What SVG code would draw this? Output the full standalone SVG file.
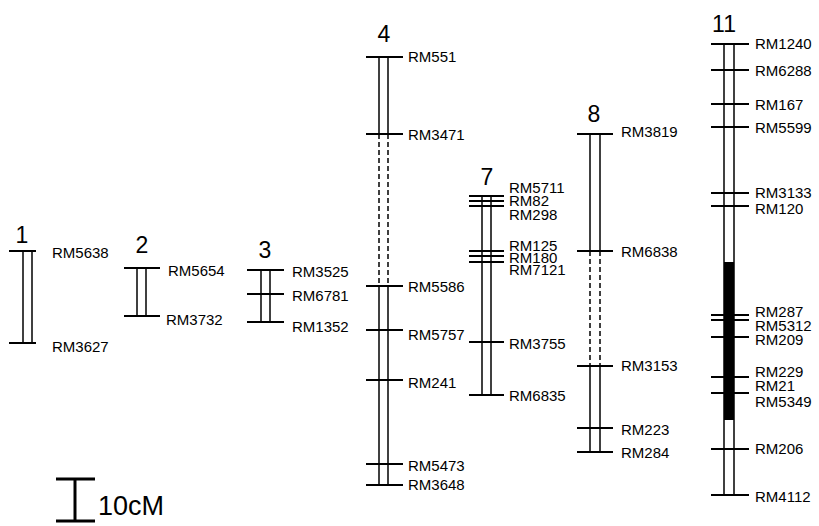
<svg xmlns="http://www.w3.org/2000/svg" width="819" height="526" viewBox="0 0 819 526">
<style>
.bg{fill:#fff}
.rail{stroke:#000;stroke-width:1.5;fill:none}
.dash{stroke:#000;stroke-width:1.5;fill:none;stroke-dasharray:5,3}
.tick{stroke:#000;stroke-width:2}
.lbl{font-family:"Liberation Sans",Arial,sans-serif;font-size:15px;fill:#000}
.num{font-family:"Liberation Sans",Arial,sans-serif;font-size:23px;fill:#000;text-anchor:middle}
</style>
<rect class="bg" x="0" y="0" width="819" height="526"/>
<g id="chr1">
<text class="num" x="22" y="243">1</text>
<line class="rail" x1="23" y1="251" x2="23" y2="343"/><line class="rail" x1="32" y1="251" x2="32" y2="343"/>
<line class="tick" x1="9" y1="251" x2="36" y2="251"/><line class="tick" x1="9" y1="343" x2="36" y2="343"/>
<text class="lbl" x="52" y="258">RM5638</text><text class="lbl" x="52" y="352">RM3627</text>
</g>
<g id="chr2">
<text class="num" x="142" y="253">2</text>
<line class="rail" x1="137" y1="268" x2="137" y2="316"/><line class="rail" x1="146" y1="268" x2="146" y2="316"/>
<line class="tick" x1="124" y1="268" x2="160" y2="268"/><line class="tick" x1="124" y1="316" x2="160" y2="316"/>
<text class="lbl" x="168" y="276">RM5654</text><text class="lbl" x="166" y="325">RM3732</text>
</g>
<g id="chr3">
<text class="num" x="265" y="258">3</text>
<line class="rail" x1="261" y1="270" x2="261" y2="322"/><line class="rail" x1="270" y1="270" x2="270" y2="322"/>
<line class="tick" x1="247" y1="270" x2="284" y2="270"/><line class="tick" x1="247" y1="294" x2="284" y2="294"/><line class="tick" x1="247" y1="322" x2="284" y2="322"/>
<text class="lbl" x="292" y="277">RM3525</text><text class="lbl" x="292" y="301">RM6781</text><text class="lbl" x="292" y="332">RM1352</text>
</g>
<g id="chr4">
<text class="num" x="384" y="42">4</text>
<line class="rail" x1="379" y1="57" x2="379" y2="134"/><line class="rail" x1="388" y1="57" x2="388" y2="134"/>
<line class="dash" x1="379" y1="134" x2="379" y2="286"/><line class="dash" x1="388" y1="134" x2="388" y2="286"/>
<line class="rail" x1="379" y1="286" x2="379" y2="485"/><line class="rail" x1="388" y1="286" x2="388" y2="485"/>
<line class="tick" x1="366" y1="57" x2="403" y2="57"/><line class="tick" x1="366" y1="134" x2="403" y2="134"/><line class="tick" x1="366" y1="286" x2="403" y2="286"/><line class="tick" x1="366" y1="330" x2="403" y2="330"/><line class="tick" x1="366" y1="380" x2="403" y2="380"/><line class="tick" x1="366" y1="464" x2="403" y2="464"/><line class="tick" x1="366" y1="485" x2="403" y2="485"/>
<text class="lbl" x="408" y="62">RM551</text><text class="lbl" x="408" y="140">RM3471</text><text class="lbl" x="408" y="292">RM5586</text><text class="lbl" x="408" y="340">RM5757</text><text class="lbl" x="408" y="388">RM241</text><text class="lbl" x="408" y="471">RM5473</text><text class="lbl" x="408" y="490">RM3648</text>
</g>
<g id="chr7">
<text class="num" x="487" y="185">7</text>
<line class="rail" x1="482" y1="196" x2="482" y2="395"/><line class="rail" x1="491" y1="196" x2="491" y2="395"/>
<line class="tick" x1="469" y1="196" x2="504" y2="196"/><line class="tick" x1="469" y1="201" x2="504" y2="201"/><line class="tick" x1="469" y1="206" x2="504" y2="206"/>
<line class="tick" x1="469" y1="251" x2="504" y2="251"/><line class="tick" x1="469" y1="256" x2="504" y2="256"/><line class="tick" x1="469" y1="262" x2="504" y2="262"/>
<line class="tick" x1="469" y1="342" x2="504" y2="342"/><line class="tick" x1="469" y1="395" x2="504" y2="395"/>
<text class="lbl" x="509" y="193">RM5711</text><text class="lbl" x="509" y="206">RM82</text><text class="lbl" x="509" y="220">RM298</text>
<text class="lbl" x="509" y="251">RM125</text><text class="lbl" x="509" y="263">RM180</text><text class="lbl" x="509" y="275">RM7121</text>
<text class="lbl" x="509" y="349">RM3755</text><text class="lbl" x="509" y="401">RM6835</text>
</g>
<g id="chr8">
<text class="num" x="594" y="122">8</text>
<line class="rail" x1="590" y1="134" x2="590" y2="251"/><line class="rail" x1="600" y1="134" x2="600" y2="251"/>
<line class="dash" x1="590" y1="251" x2="590" y2="366"/><line class="dash" x1="600" y1="251" x2="600" y2="366"/>
<line class="rail" x1="590" y1="366" x2="590" y2="452"/><line class="rail" x1="600" y1="366" x2="600" y2="452"/>
<line class="tick" x1="577" y1="134" x2="613" y2="134"/><line class="tick" x1="577" y1="251" x2="613" y2="251"/><line class="tick" x1="577" y1="366" x2="613" y2="366"/><line class="tick" x1="577" y1="428" x2="613" y2="428"/><line class="tick" x1="577" y1="452" x2="613" y2="452"/>
<text class="lbl" x="621" y="137">RM3819</text><text class="lbl" x="621" y="257">RM6838</text><text class="lbl" x="621" y="371">RM3153</text><text class="lbl" x="621" y="435">RM223</text><text class="lbl" x="621" y="458">RM284</text>
</g>
<g id="chr11">
<text class="num" x="724" y="32">11</text>
<rect x="724" y="262" width="10" height="158" fill="#000"/>
<line class="rail" x1="724" y1="44" x2="724" y2="495"/><line class="rail" x1="734" y1="44" x2="734" y2="495"/>
<line class="tick" x1="711" y1="44" x2="749" y2="44"/><line class="tick" x1="711" y1="70" x2="749" y2="70"/><line class="tick" x1="711" y1="104" x2="749" y2="104"/><line class="tick" x1="711" y1="127" x2="749" y2="127"/><line class="tick" x1="711" y1="193" x2="749" y2="193"/><line class="tick" x1="711" y1="206" x2="749" y2="206"/>
<line class="tick" x1="711" y1="315" x2="749" y2="315"/><line class="tick" x1="711" y1="320" x2="749" y2="320"/><line class="tick" x1="711" y1="337" x2="749" y2="337"/><line class="tick" x1="711" y1="377" x2="749" y2="377"/><line class="tick" x1="711" y1="393" x2="749" y2="393"/>
<line class="tick" x1="711" y1="449" x2="749" y2="449"/><line class="tick" x1="711" y1="495" x2="749" y2="495"/>
<text class="lbl" x="755" y="49">RM1240</text><text class="lbl" x="755" y="76">RM6288</text><text class="lbl" x="755" y="110">RM167</text><text class="lbl" x="755" y="133">RM5599</text><text class="lbl" x="755" y="198">RM3133</text><text class="lbl" x="755" y="214">RM120</text>
<text class="lbl" x="755" y="317">RM287</text><text class="lbl" x="755" y="331">RM5312</text><text class="lbl" x="755" y="345">RM209</text><text class="lbl" x="755" y="377">RM229</text><text class="lbl" x="755" y="391">RM21</text><text class="lbl" x="755" y="407">RM5349</text>
<text class="lbl" x="755" y="454">RM206</text><text class="lbl" x="755" y="502">RM4112</text>
</g>
<g id="scale">
<line x1="75" y1="479" x2="75" y2="521" stroke="#000" stroke-width="3"/>
<line x1="56" y1="479" x2="95" y2="479" stroke="#000" stroke-width="3"/>
<line x1="56" y1="521" x2="95" y2="521" stroke="#000" stroke-width="3"/>
<text x="98" y="515" style="font-family:'Liberation Sans',Arial,sans-serif;font-size:27px">10cM</text>
</g>
</svg>
